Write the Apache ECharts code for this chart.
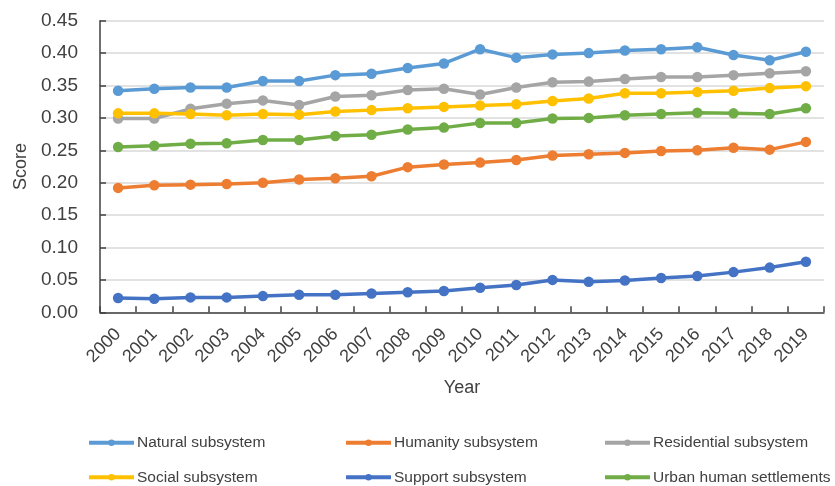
<!DOCTYPE html>
<html>
<head>
<meta charset="utf-8">
<script src="https://cdn.jsdelivr.net/npm/echarts@6/dist/echarts.min.js"></script>
<style>
html,body{margin:0;padding:0;background:#fff;}
#chart{width:835px;height:486px;}
</style>
</head>
<body>
<div id="chart"></div>
<script>
var years = ['2000','2001','2002','2003','2004','2005','2006','2007','2008','2009','2010','2011','2012','2013','2014','2015','2016','2017','2018','2019'];
var natural     = [0.342,0.345,0.347,0.347,0.357,0.357,0.366,0.368,0.377,0.384,0.406,0.393,0.398,0.400,0.404,0.406,0.409,0.397,0.389,0.402];
var humanity    = [0.192,0.196,0.197,0.198,0.200,0.205,0.207,0.210,0.224,0.228,0.231,0.235,0.242,0.244,0.246,0.249,0.250,0.254,0.251,0.263];
var residential = [0.299,0.299,0.314,0.322,0.327,0.320,0.333,0.335,0.343,0.345,0.336,0.347,0.355,0.356,0.360,0.363,0.363,0.366,0.369,0.372];
var social      = [0.307,0.307,0.306,0.304,0.306,0.305,0.310,0.312,0.315,0.317,0.319,0.321,0.326,0.330,0.338,0.338,0.340,0.342,0.346,0.349];
var support     = [0.022,0.021,0.023,0.023,0.025,0.027,0.027,0.029,0.031,0.033,0.038,0.042,0.050,0.047,0.049,0.053,0.056,0.062,0.069,0.078];
var urban       = [0.255,0.257,0.260,0.261,0.266,0.266,0.272,0.274,0.282,0.285,0.292,0.292,0.299,0.300,0.304,0.306,0.308,0.307,0.306,0.315];

var seriesDefs = [
  {name:'Natural subsystem', data:natural, color:'#5B9BD5'},
  {name:'Humanity subsystem', data:humanity, color:'#ED7D31'},
  {name:'Residential subsystem', data:residential, color:'#A5A5A5'},
  {name:'Social subsystem', data:social, color:'#FFC000'},
  {name:'Support subsystem', data:support, color:'#4472C4'},
  {name:'Urban human settlements', data:urban, color:'#70AD47'}
];

var font = 'Liberation Sans, Arial, sans-serif';
var textColor = '#404040';
var axisColor = '#404040';

var legendCols = [87, 344, 603];
var legendRows = [432.7, 467.3];
function legendItem(i){
  return {
    orient:'horizontal', left:legendCols[i % 3], top:legendRows[Math.floor(i / 3)],
    padding:0, itemGap:0,
    itemWidth:45, itemHeight:8,
    data:[seriesDefs[i].name],
    lineStyle:{width:4},
    textStyle:{fontFamily:font, fontSize:15.5, color:textColor, lineHeight:20, padding:[0,0,0,-2]}
  };
}

var chart = echarts.init(document.getElementById('chart'), null, {renderer:'canvas'});
chart.setOption({
  animation:false,
  backgroundColor:'#fff',
  grid:{left:100, right:11, top:20.7, bottom:173.7, containLabel:false, outerBoundsMode:'none'},
  legend:seriesDefs.map(function(s, i){ return legendItem(i); }),
  xAxis:{
    type:'category', data:years, boundaryGap:true,
    name:'Year', nameLocation:'middle', nameGap:67,
    nameTextStyle:{fontFamily:font, fontSize:18, color:textColor},
    axisLine:{lineStyle:{color:axisColor, width:1.5}},
    axisTick:{show:true, inside:true, length:6, lineStyle:{color:axisColor, width:1.5}},
    axisLabel:{rotate:45, margin:19, fontFamily:font, fontSize:18, color:textColor, interval:0}
  },
  yAxis:{
    type:'value', min:0, max:0.45, interval:0.05,
    name:'Score', nameLocation:'middle', nameGap:65,
    nameTextStyle:{fontFamily:font, fontSize:18, color:textColor},
    axisLine:{show:true, lineStyle:{color:axisColor, width:1.5}},
    axisTick:{show:true, inside:true, length:6, lineStyle:{color:axisColor, width:1.5}},
    axisLabel:{margin:22, fontFamily:font, fontSize:19, color:textColor, formatter:function(v){return v.toFixed(2);}},
    splitLine:{lineStyle:{color:'#D9D9D9', width:1.5}}
  },
  series:seriesDefs.map(function(s){
    return {
      name:s.name, type:'line', data:s.data,
      symbol:'circle', symbolSize:10.5,
      lineStyle:{color:s.color, width:3.5},
      itemStyle:{color:s.color}
    };
  })
});
</script>
</body>
</html>
